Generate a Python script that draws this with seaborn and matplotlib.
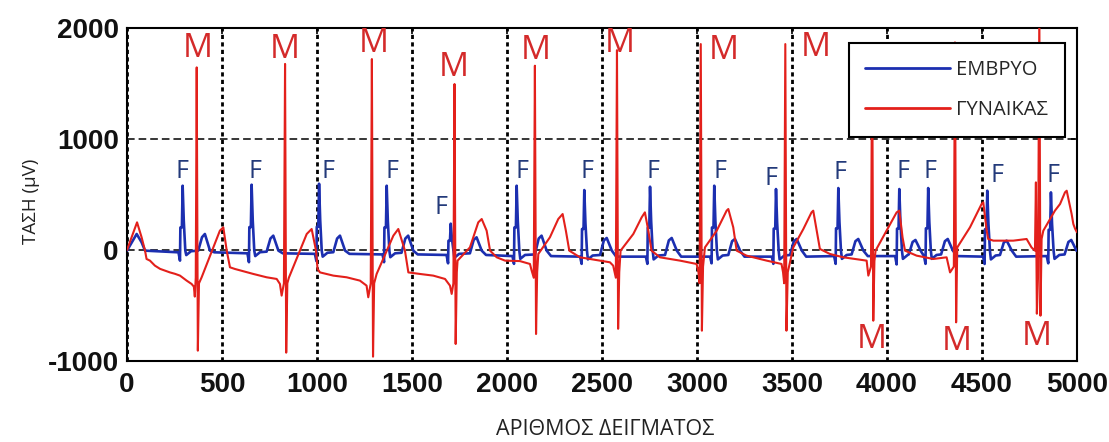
import matplotlib
matplotlib.use("Agg")
import matplotlib.pyplot as plt
import pandas as pd
import seaborn as sns

# ---- maternal ECG (ΓΥΝΑΙΚΑΣ): polyline vertices, sample index / μV ----
mat_x = [0, 53, 77, 95, 103, 121, 147, 174, 226, 253, 279, 314, 340, 352,
         357, 362, 367, 373, 379, 393,
         489, 507, 525, 542, 568, 665, 700, 735, 788, 805,
         814, 826, 832, 838, 844, 852,
         946, 963, 972, 995, 1003, 1016, 1086, 1156, 1226, 1261,
         1270, 1283, 1289, 1295, 1301, 1314,
         1402, 1428, 1463, 1481, 1542, 1612, 1674, 1700,
         1709, 1718, 1724, 1730, 1736, 1740,
         1805, 1849, 1867, 1893, 1911, 1946, 1990, 2068, 2121,
         2130, 2141, 2147, 2153, 2159, 2165,
         2226, 2270, 2293, 2310, 2328, 2384, 2489, 2542,
         2559, 2573, 2579, 2585, 2591, 2598,
         2665, 2709, 2726, 2744, 2761, 2805, 2911, 2998,
         3008, 3014, 3020, 3026, 3032, 3042,
         3104, 3156, 3165, 3191, 3209, 3261, 3367, 3445,
         3453, 3459, 3465, 3471, 3478, 3507,
         3560, 3603, 3612, 3630, 3647, 3700, 3770, 3893,
         3902, 3916, 3922, 3928, 3934, 3940,
         3998, 4051, 4065, 4082, 4095, 4156, 4244, 4314,
         4332, 4352, 4358, 4364, 4370,
         4437, 4498, 4507, 4525, 4533, 4560, 4665, 4735, 4761, 4779,
         4784, 4789, 4795,
         4802, 4808, 4814, 4823,
         4884, 4911, 4937, 4946, 4972, 4981, 4990, 5000]
mat_y = [0, 249, 114, -6, -81, -96, -141, -170, -202, -215, -231, -276, -306, -330,
         -420, -250, 1645, -907, -300, -246,
         174, 204, -6, -156, -171, -216, -231, -246, -261, -306,
         -411, -300, 1676, -925, -300, -250,
         144, 174, 189, -6, -171, -202, -231, -246, -276, -321,
         -426, -300, 1720, -961, -300, -216,
         129, 189, -6, -202, -216, -231, -261, -321,
         -396, -300, 1495, -847, -200, -96,
         23, 249, 279, 174, -6, -66, -96, -100, -126,
         -186, -250, 1660, -757, -200, -36,
         114, 279, 324, 174, -6, -66, -96, -111,
         -141, -250, 1800, -710, -200, -6,
         144, 294, 339, 174, -6, -66, -96, -126,
         -200, -300, 1855, -727, -150, 23,
         174, 354, 369, 204, -6, -51, -96, -126,
         -200, -300, 1855, -727, -200, 23,
         189, 339, 354, 174, 9, -36, -66, -96,
         -231, -150, 1800, -637, -100, -6,
         174, 339, 354, 114, -6, -51, -81, -66,
         -202, -150, 1870, -652, 23,
         204, 414, 429, 174, 99, 84, 84, 99, 23, -6,
         609, -574, -246,
         2150, -592, 100, 174,
         354, 414, 519, 534, 324, 234, 192, 160]

# ---- fetal ECG (ΕΜΒΡΥΟ): per-beat landmarks ----
fetal_start_x = [0, 51, 77, 95]
fetal_start_y = [-6, 144, 69, -6]
fetal_r_x = [293, 656, 1011, 1367, 1704, 2051, 2407, 2753, 3091, 3416, 3744, 4065, 4217, 4528, 4863]
fetal_r_y = [579, 588, 597, 579, 237, 579, 540, 570, 579, 549, 558, 549, 558, 534, 519]
fetal_q_y = [-96, -110, -100, -110, -120, -125, -125, -125, -120, -125, -125, -130, -125, -126, -120]
fetal_t_x = [410, 770, 1121, 1480, 1840, 2182, 2525, 2867, 3200, 3525, 3849, 4150, 4320, 4630, 4970]
fetal_t_y = [144, 129, 129, 129, 114, 129, 108, 108, 99, 99, 99, 90, 99, 84, 90]
fetal_base = [-21, -30, -35, -40, -45, -55, -60, -60, -60, -60, -55, -55, -55, -60, -55]

# ---- peak annotations ----
m_label_x = [374, 832, 1300, 1721, 2153, 2595, 3142, 3626, 3921, 4368, 4789]
m_label_y = [1814, 1805, 1860, 1643, 1796, 1860, 1796, 1823, -808, -826, -781]
f_label_x = [292, 674, 1058, 1395, 1655, 2079, 2421, 2768, 3121, 3389, 3753, 4087, 4226, 4579, 4874]
f_label_y = [705, 705, 705, 705, 381, 705, 705, 705, 705, 642, 696, 705, 705, 669, 669]

x_ticks = [0, 500, 1000, 1500, 2000, 2500, 3000, 3500, 4000, 4500, 5000]
y_ticks = [-1000, 0, 1000, 2000]


def fetal_polyline():
    xs, ys = list(fetal_start_x), list(fetal_start_y)
    n = len(fetal_r_x)
    for i in range(n):
        p, h = fetal_r_x[i], fetal_r_y[i]
        tx, ty = fetal_t_x[i], fetal_t_y[i]
        q, b = fetal_q_y[i], fetal_base[i]
        limit = fetal_r_x[i + 1] - 22 if i < n - 1 else 5000
        beat = [(p - 22, b), (p - 14, q), (p - 12, 0.35 * h), (p - 4, 0.35 * h),
                (p, h), (p + 6, 0.45 * h), (p + 14, -6), (p + 19, b - 25),
                (p + 44, b + 10), (tx - 35, b + 15), (tx - 15, 0.8 * ty),
                (tx, ty), (tx + 13, 0.5 * ty), (tx + 27, -6), (tx + 50, b)]
        for x, y in beat:
            if x < limit:
                xs.append(x)
                ys.append(y)
    return pd.DataFrame({"x": xs, "y": ys})


BLUE = "#1c2fb0"
RED = "#e3201b"
TXT = ["Open Sans", "DejaVu Sans"]

sns.set_style("white")
plt.rcParams["font.family"] = TXT

fig = plt.figure(figsize=(11.09, 4.42), dpi=100)
ax = fig.add_axes([0.1145, 0.1833, 0.8566, 0.7534])

fetal = fetal_polyline()
maternal = pd.DataFrame({"x": mat_x, "y": mat_y})

sns.lineplot(data=fetal, x="x", y="y", ax=ax, color=BLUE, linewidth=1.9,
             estimator=None, sort=False, label="ΕΜΒΡΥΟ", zorder=3)
sns.lineplot(data=maternal, x="x", y="y", ax=ax, color=RED, linewidth=1.5,
             estimator=None, sort=False, label="ΓΥΝΑΙΚΑΣ", zorder=4)

for x, y in zip(m_label_x, m_label_y):
    ax.text(x, y, "M", color="#d42a2a", fontsize=24, ha="center", va="center",
            family=TXT, zorder=5)
for x, y in zip(f_label_x, f_label_y):
    ax.text(x, y, "F", color="#233a7a", fontsize=18, ha="center", va="center",
            family=TXT, zorder=5)

ax.set_xlim(0, 5000)
ax.set_ylim(-1000, 2000)
ax.set_xticks(x_ticks)
ax.set_yticks(y_ticks)
ax.set_xticklabels([str(t) for t in x_ticks])
ax.set_yticklabels([str(t) for t in y_ticks])
for lab in ax.get_xticklabels() + ax.get_yticklabels():
    lab.set_family(["Liberation Sans", "DejaVu Sans"])
    lab.set_fontweight("bold")
    lab.set_fontsize(20)
    lab.set_color("#111111")
ax.tick_params(axis="both", direction="in", length=4, width=1.2,
               top=True, right=True, color="black")
ax.tick_params(axis="x", pad=8)
ax.tick_params(axis="y", pad=6)

ax.xaxis.grid(True, linestyle=(0, (1.5, 1.2)), linewidth=2.0, color="black")
ax.yaxis.grid(True, linestyle=(0, (5, 2.6)), linewidth=1.1, color="black")
ax.set_axisbelow(True)

for s in ax.spines.values():
    s.set_visible(True)
    s.set_color("black")
    s.set_linewidth(1.5)

ax.set_xlabel("ΑΡΙΘΜΟΣ ΔΕΙΓΜΑΤΟΣ", fontsize=15.5, color="#222222")
ax.set_ylabel("ΤΑΣΗ (μV)", fontsize=13.5, color="#222222")
ax.xaxis.set_label_coords(0.503, -0.175)
ax.yaxis.set_label_coords(-0.092, 0.48)

leg = ax.legend(loc="upper right", bbox_to_anchor=(0.987, 0.955), frameon=True,
                fancybox=False, framealpha=1, edgecolor="black",
                prop={"family": TXT, "size": 14.5}, handlelength=4.2,
                handletextpad=0.3, labelspacing=1.0, borderpad=0.83,
                borderaxespad=0)
leg.get_frame().set_linewidth(1.5)
leg.set_zorder(10)
for line in leg.get_lines():
    line.set_linewidth(2.0)

fig.savefig("out.png", dpi=100)
